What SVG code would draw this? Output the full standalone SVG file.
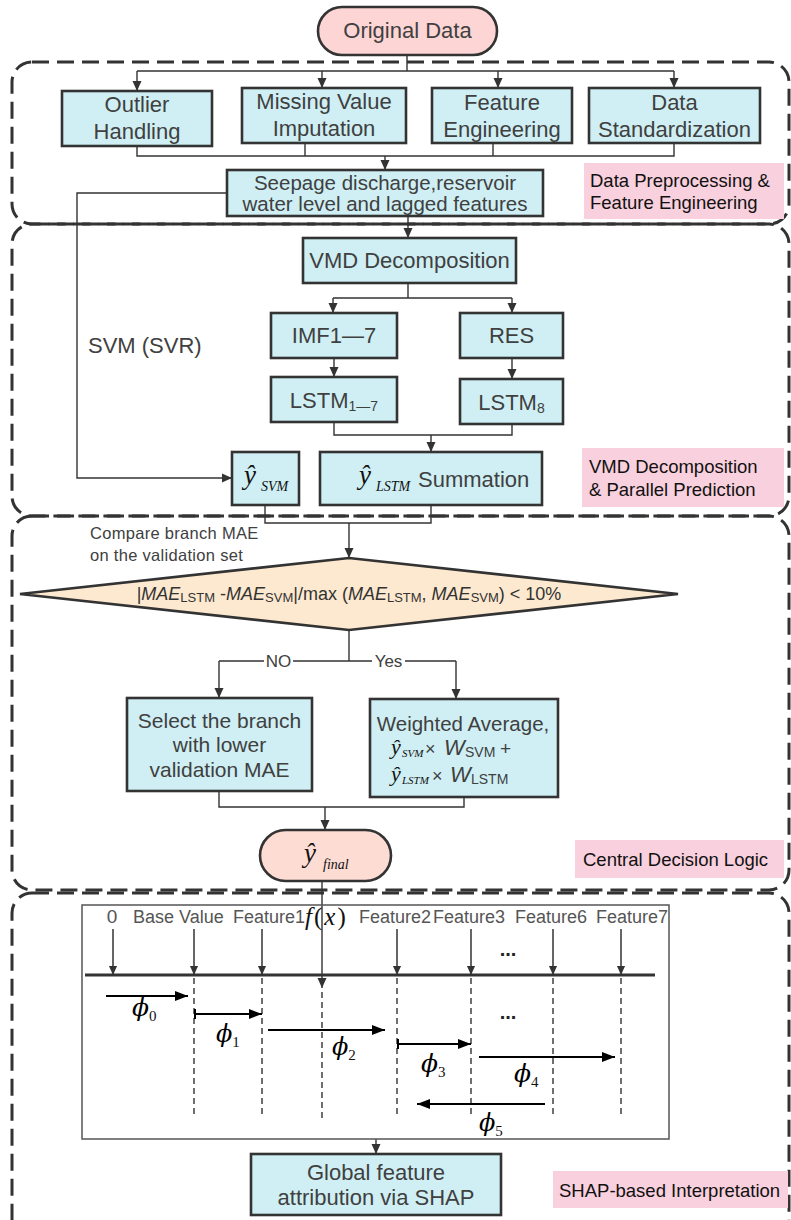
<svg xmlns="http://www.w3.org/2000/svg" width="791" height="1220" viewBox="0 0 791 1220">
<defs>
<marker id="ah" viewBox="0 0 10 10" refX="10" refY="5" markerWidth="10" markerHeight="10" markerUnits="userSpaceOnUse" orient="auto"><path d="M0,0.5 L10,5 L0,9.5 z" fill="#333"/></marker>
<marker id="ahb" viewBox="0 0 13 10" refX="13" refY="5" markerWidth="13" markerHeight="10" markerUnits="userSpaceOnUse" orient="auto"><path d="M0,0 L13,5 L0,10 z" fill="#000"/></marker>
<marker id="ahs" viewBox="0 0 10 10" refX="10" refY="5" markerWidth="9" markerHeight="10" markerUnits="userSpaceOnUse" orient="auto"><path d="M0,0.5 L10,5 L0,9.5 z" fill="#333"/></marker>
</defs>
<style>
.region{fill:none;stroke:#333;stroke-width:3;stroke-dasharray:17 8}
.box{fill:#cfeff4;stroke:#333;stroke-width:2.6}
.t{font-family:"Liberation Sans",Arial,sans-serif;fill:#404040;text-anchor:middle}
.f22{font-size:22px}
.f21{font-size:21px}
.lbl{fill:#f9d0dd}
.lt{font-family:"Liberation Sans",Arial,sans-serif;font-size:18.5px;fill:#111}
.conn{fill:none;stroke:#333;stroke-width:1.4}
.arr{marker-end:url(#ah)}
.m{font-family:"Liberation Serif","DejaVu Serif",serif;font-style:italic;fill:#111}
.p{font-family:"DejaVu Serif","Liberation Serif",serif;font-style:italic;fill:#000}
.g{font-family:"Liberation Sans",Arial,sans-serif;fill:#555;font-size:18px}
.dash{fill:none;stroke:#333;stroke-width:1.4;stroke-dasharray:6 4}
.phi{fill:none;stroke:#000;stroke-width:2;marker-end:url(#ahb)}
.fa{fill:none;stroke:#333;stroke-width:1.5;marker-end:url(#ahs)}
</style>
<rect width="791" height="1220" fill="#fff"/>

<g id="regions">
<rect class="region" x="12" y="62" width="777" height="162" rx="20"/>
<rect class="region" x="12" y="224" width="777" height="292" rx="20"/>
<rect class="region" x="12" y="516" width="777" height="374" rx="20"/>
<rect class="region" x="12" y="893" width="777" height="360" rx="20"/>
</g>

<g id="connectors">
<path class="conn" d="M407,55 V71 M137,71 H674"/>
<path class="conn arr" d="M137,71 V91"/>
<path class="conn arr" d="M322,71 V88"/>
<path class="conn arr" d="M498,71 V88"/>
<path class="conn arr" d="M674,71 V88"/>
<path class="conn" d="M137,146 V156 H674 V143 M305,143 V156 M493,143 V156"/>
<path class="conn arr" d="M385,156 V170"/>
<path class="conn arr" d="M227,193 H77 V478 H232"/>
<path class="conn arr" d="M408,216 V238"/>
<path class="conn" d="M408,283 V298 M333,298 H512"/>
<path class="conn arr" d="M333,298 V313"/>
<path class="conn arr" d="M512,298 V313"/>
<path class="conn arr" d="M334,358 V377"/>
<path class="conn arr" d="M512,358 V379"/>
<path class="conn" d="M334,422 V435 H512 V424"/>
<path class="conn arr" d="M431,435 V452"/>
<path class="conn" d="M265,505 V523 H431 V505"/>
<path class="conn arr" d="M349,523 V558"/>
<path class="conn" d="M349,630 V661 M219,661 H264 M293,661 H372 M405,661 H456"/>
<path class="conn arr" d="M219,661 V698"/>
<path class="conn arr" d="M456,661 V699"/>
<path class="conn" d="M219,791 V807 H464 V797"/>
<path class="conn arr" d="M325,807 V830"/>
<path class="conn arr" d="M322,881 V988"/>
<path class="conn arr" d="M376,1139 V1154"/>
<text class="t" x="278.5" y="667" style="font-size:17px">NO</text>
<text class="t" x="388.5" y="667" style="font-size:17px">Yes</text>
<text class="t" x="88" y="353" style="font-size:22px;text-anchor:start">SVM (SVR)</text>
<text class="t" x="90" y="539" style="font-size:16.5px;text-anchor:start;letter-spacing:0.3px">Compare branch MAE</text>
<text class="t" x="90" y="561" style="font-size:16.5px;text-anchor:start;letter-spacing:0.3px">on the validation set</text>
</g>

<g id="original-data">
<rect x="318" y="7" width="179" height="48" rx="24" fill="#fdd5d5" stroke="#333" stroke-width="2.6"/>
<text class="t f22" x="407.5" y="38">Original Data</text>
</g>
<g id="outlier">
<rect class="box" x="62" y="91" width="150" height="55"/>
<text class="t f22" x="137" y="112">Outlier</text>
<text class="t f22" x="137" y="139">Handling</text>
</g>
<g id="missing">
<rect class="box" x="242" y="88" width="164" height="55"/>
<text class="t f22" x="324" y="109">Missing Value</text>
<text class="t f22" x="324" y="136">Imputation</text>
</g>
<g id="feature-eng">
<rect class="box" x="432" y="88" width="140" height="55"/>
<text class="t f22" x="502" y="110">Feature</text>
<text class="t f22" x="502" y="137">Engineering</text>
</g>
<g id="standardization">
<rect class="box" x="589" y="88" width="171" height="55"/>
<text class="t f22" x="674.5" y="110">Data</text>
<text class="t f22" x="674.5" y="137">Standardization</text>
</g>
<g id="seepage">
<rect class="box" x="227" y="170" width="316" height="46"/>
<text class="t" x="385" y="190" style="font-size:20.5px">Seepage discharge,reservoir</text>
<text class="t" x="385" y="211" style="font-size:20.5px">water level and lagged features</text>
</g>
<g id="label-1">
<rect class="lbl" x="584" y="163" width="200" height="56"/>
<text class="lt" x="590" y="187">Data Preprocessing &amp;</text>
<text class="lt" x="590" y="209">Feature Engineering</text>
</g>

<g id="vmd">
<rect class="box" x="303" y="238" width="213" height="45"/>
<text class="t f22" x="409.5" y="268">VMD Decomposition</text>
</g>
<g id="imf">
<rect class="box" x="271" y="313" width="126" height="45"/>
<text class="t f22" x="334" y="343">IMF1—7</text>
</g>
<g id="res">
<rect class="box" x="460" y="313" width="103" height="45"/>
<text class="t f22" x="511.5" y="343">RES</text>
</g>
<g id="lstm17">
<rect class="box" x="271" y="377" width="126" height="45"/>
<text class="t f22" x="334" y="408">LSTM<tspan style="font-size:14px" dy="3">1—7</tspan></text>
</g>
<g id="lstm8">
<rect class="box" x="460" y="379" width="103" height="45"/>
<text class="t f22" x="511.5" y="410">LSTM<tspan style="font-size:14px" dy="3">8</tspan></text>
</g>
<g id="ysvm">
<rect class="box" x="232" y="452" width="67" height="53"/>
<text class="m" x="244" y="484" style="font-size:27px">ŷ</text>
<text class="m" x="261" y="491" style="font-size:14px">SVM</text>
</g>
<g id="summation">
<rect class="box" x="320" y="452" width="222" height="53"/>
<text class="m" x="359" y="484" style="font-size:27px">ŷ</text>
<text class="m" x="376" y="491" style="font-size:14px">LSTM</text>
<text class="t f22" x="418" y="487" style="text-anchor:start">Summation</text>
</g>
<g id="label-2">
<rect class="lbl" x="582" y="448" width="202" height="59"/>
<text class="lt" x="589" y="473">VMD Decomposition</text>
<text class="lt" x="589" y="496">&amp; Parallel Prediction</text>
</g>

<g id="decision">
<polygon points="20,594 349,558 678,594 349,630" fill="#fde9cf" stroke="#333" stroke-width="2.6"/>
<text x="349" y="600" style="font-family:'Liberation Sans',Arial,sans-serif;font-size:18px;fill:#333;text-anchor:middle">|<tspan font-style="italic">MAE</tspan><tspan style="font-size:13px" dy="2">LSTM</tspan><tspan dy="-2"> -</tspan><tspan font-style="italic">MAE</tspan><tspan style="font-size:13px" dy="2">SVM</tspan><tspan dy="-2">|/max (</tspan><tspan font-style="italic">MAE</tspan><tspan style="font-size:13px" dy="2">LSTM</tspan><tspan dy="-2">, </tspan><tspan font-style="italic">MAE</tspan><tspan style="font-size:13px" dy="2">SVM</tspan><tspan dy="-2">) &lt; 10%</tspan></text>
</g>
<g id="select">
<rect class="box" x="127" y="698" width="185" height="93"/>
<text class="t f21" x="219.5" y="728">Select the branch</text>
<text class="t f21" x="219.5" y="752">with lower</text>
<text class="t f21" x="219.5" y="777">validation MAE</text>
</g>
<g id="weighted">
<rect class="box" x="370" y="699" width="188" height="98"/>
<text class="t" x="463" y="731" style="font-size:20.5px">Weighted Average,</text>
<text class="m" x="391" y="754" style="font-size:22px">ŷ</text>
<text class="m" x="402" y="757" style="font-size:11px">SVM</text>
<text class="t" x="425" y="755" style="font-size:18px;text-anchor:start">×</text>
<text class="t" x="444" y="755" style="font-size:22px;text-anchor:start;font-style:italic">W</text>
<text class="t" x="465" y="757" style="font-size:14px;text-anchor:start">SVM</text>
<text class="t" x="500" y="755" style="font-size:19px;text-anchor:start">+</text>
<text class="m" x="391" y="781" style="font-size:22px">ŷ</text>
<text class="m" x="402" y="784" style="font-size:11px">LSTM</text>
<text class="t" x="432" y="782" style="font-size:18px;text-anchor:start">×</text>
<text class="t" x="450" y="782" style="font-size:22px;text-anchor:start;font-style:italic">W</text>
<text class="t" x="471" y="784" style="font-size:14px;text-anchor:start">LSTM</text>
</g>
<g id="y-final">
<rect x="260" y="830" width="131" height="51" rx="25.5" fill="#fddcd4" stroke="#333" stroke-width="2.6"/>
<text class="m" x="304" y="862" style="font-size:27px">ŷ</text>
<text class="m" x="323" y="869" style="font-size:14px">final</text>
</g>
<g id="label-3">
<rect class="lbl" x="575" y="840" width="209" height="38"/>
<text class="lt" x="583" y="866">Central Decision Logic</text>
</g>

<g id="shap">
<rect x="82" y="905" width="587" height="234" fill="none" stroke="#555" stroke-width="1.5"/>
<text class="g" x="112" y="923" style="font-size:19px;text-anchor:middle">0</text>
<text class="g" x="133" y="923">Base Value</text>
<text class="g" x="233" y="923">Feature1</text>
<text x="305" y="925" style="font-family:'Liberation Serif','DejaVu Serif',serif;font-size:25px;fill:#111;letter-spacing:2px"><tspan font-style="italic">f</tspan>(<tspan font-style="italic">x</tspan>)</text>
<text class="g" x="359" y="923">Feature2</text>
<text class="g" x="433" y="923">Feature3</text>
<text class="g" x="515" y="923">Feature6</text>
<text class="g" x="596" y="923">Feature7</text>
<path class="fa" d="M113,929 V975"/>
<path class="fa" d="M194,929 V975"/>
<path class="fa" d="M262,929 V975"/>
<path class="fa" d="M397,929 V975"/>
<path class="fa" d="M471,929 V975"/>
<path class="fa" d="M553,929 V975"/>
<path class="fa" d="M621,929 V975"/>
<path d="M85,975 H655" stroke="#333" stroke-width="3"/>
<text x="508" y="956" style="font-family:'Liberation Sans',Arial,sans-serif;font-size:20px;font-weight:bold;fill:#222;text-anchor:middle">...</text>
<text x="508" y="1019" style="font-family:'Liberation Sans',Arial,sans-serif;font-size:20px;font-weight:bold;fill:#222;text-anchor:middle">...</text>
<path class="dash" d="M194,978 V1118 M262,978 V1118 M322,992 V1118 M397,978 V1118 M471,978 V1118 M553,978 V1118 M621,978 V1118"/>
<path class="phi" d="M106,996 H188"/>
<path class="phi" d="M195,1014 H262"/>
<path d="M195,1009 V1019" stroke="#000" stroke-width="2"/>
<path class="phi" d="M268,1030 H385"/>
<path class="phi" d="M398,1044 H471"/>
<path d="M398,1039 V1049" stroke="#000" stroke-width="2"/>
<path class="phi" d="M479,1057 H615"/>
<path class="phi" d="M545,1104 H417"/>
<text class="p" x="132" y="1016" style="font-size:25px">ϕ<tspan class="m" style="font-style:normal;font-size:15px" dy="5">0</tspan></text>
<text class="p" x="216" y="1042" style="font-size:24px">ϕ<tspan class="m" style="font-style:normal;font-size:15px" dy="5">1</tspan></text>
<text class="p" x="332" y="1055" style="font-size:24px">ϕ<tspan class="m" style="font-style:normal;font-size:15px" dy="5">2</tspan></text>
<text class="p" x="421" y="1072" style="font-size:25px">ϕ<tspan class="m" style="font-style:normal;font-size:15px" dy="5">3</tspan></text>
<text class="p" x="514" y="1082" style="font-size:25px">ϕ<tspan class="m" style="font-style:normal;font-size:15px" dy="5">4</tspan></text>
<text class="p" x="479" y="1131" style="font-size:24px">ϕ<tspan class="m" style="font-style:normal;font-size:15px" dy="5">5</tspan></text>
</g>
<g id="global">
<rect class="box" x="251" y="1154" width="250" height="61"/>
<text class="t f22" x="376" y="1180">Global feature</text>
<text class="t f22" x="376" y="1205">attribution via SHAP</text>
</g>
<g id="label-4">
<rect class="lbl" x="553" y="1171" width="235" height="37"/>
<text class="lt" x="559" y="1197">SHAP-based Interpretation</text>
</g>
</svg>
